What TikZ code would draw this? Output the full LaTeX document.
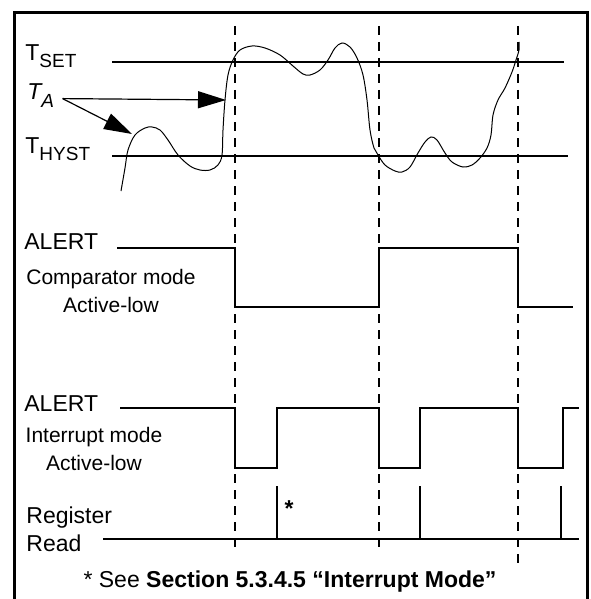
\documentclass[tikz,border=0pt]{standalone}
\usepackage{fontspec}
\setmainfont{Liberation Sans}
\usetikzlibrary{arrows.meta}
\newcommand{\lowsub}[1]{\raisebox{-3.5pt}{\fontsize{9.5}{10}\selectfont #1}}

\begin{document}
\begin{tikzpicture}[x=0.5pt,y=-0.5pt,
  lbl/.style={inner sep=0pt,font=\fontsize{11.5}{14}\selectfont},
  mode/.style={inner sep=0pt,font=\fontsize{10.5}{14}\selectfont,align=center},
  wave/.style={line width=1pt},
  level/.style={line width=0.6pt},
  guide/.style={line width=1.2pt,dash pattern=on 4.5pt off 3.5pt},
  pointer/.style={line width=0.6pt,-{Triangle[length=14pt,width=8.5pt]}}]
\useasboundingbox (0,0) rectangle (590,599);
\draw[line width=1.5pt] (14,599) -- (14,13) -- (587,13) -- (587,599);
%\draw[help lines] (0,0) grid (590,599);
% temperature levels
\node[lbl,anchor=base west] (tset) at (25,61) {T\lowsub{SET}};
\node[lbl,anchor=base west] (ta) at (27,100) {\itshape T\lowsub{A}};
\node[lbl,anchor=base west] (thyst) at (25,153) {T\lowsub{HYST}};
\draw[level] (112,62) -- (564,62);
\draw[level] (112,156) -- (568,156);
\draw[line width=0.5pt] plot[smooth,tension=0.55] coordinates {
  (121,191) (125,168) (128,150) (135,135) (145,128) (152,127) (160,130)
  (168,140) (178,155) (190,166) (200,170) (210,170) (218,165) (222,155)
  (223,130) (225,100) (228,75) (233,60) (240,50) (252,46) (265,48)
  (280,55) (293,66) (303,74) (310,75) (320,70) (328,60) (335,48)
  (342,43) (350,47) (357,58) (363,75) (367,100) (370,130) (374,148)
  (378,155) (385,165) (395,171) (402,172) (410,167) (418,153) (425,142)
  (431,137) (437,140) (445,153) (452,162) (463,167) (472,165) (480,158)
  (487,148) (491,135) (493,115) (498,100) (505,88) (512,72) (516,60)
  (519,50) (519,42)};
\coordinate (hit1) at (226,100);
\coordinate (hit2) at (132,134);
\draw[pointer] ([xshift=4pt,yshift=-1.5pt]ta.east) -- (hit1);
\draw[pointer] ([xshift=4pt,yshift=-1.5pt]ta.east) -- (hit2);
% guides
\draw[guide] (235,26) -- (235,553);
\draw[guide] (379,26) -- (379,553);
\draw[guide] (518,26) -- (518,566);
% comparator output
\node[lbl,anchor=base west] (alertcmp) at (24,249) {ALERT};
\node[mode] (cmpmode) at (111,291) {Comparator mode\\Active-low};
\draw[wave] (117,248) -- (235,248) -- (235,307) -- (379,307) -- (379,248)
  -- (518,248) -- (518,307) -- (573,307);
% interrupt output
\node[lbl,anchor=base west] (alertint) at (24,411) {ALERT};
\node[mode] (intmode) at (94,449) {Interrupt mode\\Active-low};
\draw[wave] (120,408) -- (235,408) -- (235,468) -- (277,468) -- (277,408)
  -- (379,408) -- (379,468) -- (420,468) -- (420,408) -- (518,408)
  -- (518,468) -- (563,468) -- (563,408) -- (579,408);
% register read
\node[lbl,align=left,anchor=west] (regread) at (26,529) {Register\\Read};
\draw[wave] (103,539) -- (579,539);
\draw[wave] (277,539) -- (277,486);
\draw[wave] (420,539) -- (420,486);
\draw[wave] (561,539) -- (561,486);
\node[lbl,anchor=base] (star) at (289,516) {\textbf{*}};
\node[lbl,anchor=base] (note) at (290,587)
  {* See \textbf{Section 5.3.4.5 “Interrupt Mode”}};
\end{tikzpicture}
\end{document}
